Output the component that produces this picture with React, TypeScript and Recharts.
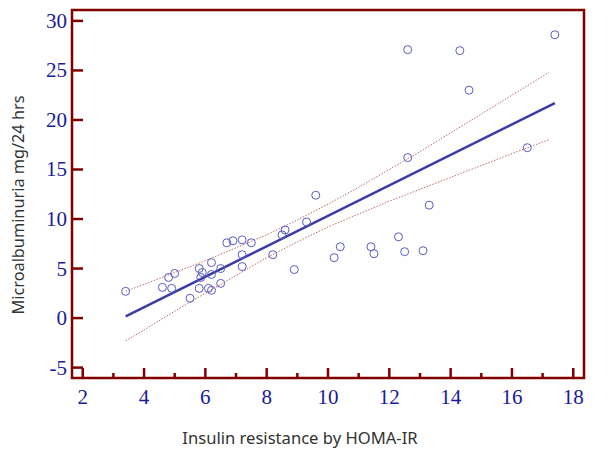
import React from "react";
import {
  ComposedChart, Scatter, Line, XAxis, YAxis, ReferenceArea,
} from "recharts";

// observed points: HOMA-IR vs microalbuminuria
const homaIR = [
  3.4, 4.6, 4.8, 5.0, 4.9, 5.5, 5.8, 5.9, 5.85, 5.8, 6.1, 6.2, 6.2, 6.2,
  6.5, 6.5, 6.7, 6.9, 7.2, 7.5, 7.2, 7.2, 8.2, 8.5, 8.6, 9.3, 9.6, 8.9,
  10.2, 10.4, 11.4, 11.5, 12.3, 12.5, 13.1, 13.3, 12.6, 12.6, 14.3, 14.6,
  16.5, 17.4,
];
const microalb = [
  2.7, 3.1, 4.1, 4.5, 3.0, 2.0, 5.0, 4.6, 4.1, 3.0, 3.0, 2.8, 5.6, 4.4,
  5.0, 3.5, 7.6, 7.8, 7.9, 7.6, 6.4, 5.2, 6.4, 8.4, 8.9, 9.7, 12.4, 4.9,
  6.1, 7.2, 7.2, 6.5, 8.2, 6.7, 6.8, 11.4, 16.2, 27.1, 27.0, 23.0,
  17.2, 28.6,
];

// regression line ends
const fitX = [3.4, 17.4];
const fitY = [0.17, 21.7];

// 95% confidence band
const ciX = [3.4, 4, 5, 6, 7, 8, 9, 10, 11, 12, 13, 14, 15, 16, 17.2];
const ciUpper = [2.7, 3.4, 4.6, 5.8, 7.1, 8.4, 9.9, 11.5, 13.2, 15.0, 16.8, 18.7, 20.6, 22.5, 24.8];
const ciLower = [-2.3, -1.2, 0.7, 2.5, 4.3, 6.1, 7.7, 9.2, 10.5, 11.8, 13.0, 14.2, 15.4, 16.6, 18.0];

const xTicks = [2, 3, 4, 5, 6, 7, 8, 9, 10, 11, 12, 13, 14, 15, 16, 17, 18];
const yTicks = [-5, 0, 5, 10, 15, 20, 25, 30];

const X_DOMAIN: [number, number] = [1.65, 18.35];
const Y_DOMAIN: [number, number] = [-6.05, 31.1];

const FRAME = "#800000";
const LABEL = "#1a1a9c";

const points = homaIR.map((x, i) => ({ x, y: microalb[i] }));
const fit = fitX.map((x, i) => ({ x, y: fitY[i] }));
const upper = ciX.map((x, i) => ({ x, y: ciUpper[i] }));
const lower = ciX.map((x, i) => ({ x, y: ciLower[i] }));

const XTick = (props: any) => {
  const { x, y, payload } = props;
  const major = payload.value % 2 === 0;
  return (
    <g>
      <line x1={x} x2={x} y1={y} y2={y - (major ? 10 : 5)} stroke={FRAME} strokeWidth={2.5} />
      {major && (
        <text x={x} y={y + 26} textAnchor="middle" fill={LABEL}
          fontFamily="Liberation Serif" fontSize={21}>
          {payload.value}
        </text>
      )}
    </g>
  );
};

const YTick = (props: any) => {
  const { x, y, payload } = props;
  return (
    <g>
      <line x1={x} x2={x + 11} y1={y} y2={y} stroke={FRAME} strokeWidth={2.5} />
      <text x={x - 5} y={y + 7} textAnchor="end" fill={LABEL}
        fontFamily="Liberation Serif" fontSize={21}>
        {payload.value}
      </text>
    </g>
  );
};

const OpenCircle = (props: any) => (
  <circle cx={props.cx} cy={props.cy} r={4} fill="none" stroke="#5a5ac4" strokeWidth={1} />
);

export default function App() {
  return (
    <div style={{ position: "absolute", left: 0, top: 0, background: "#fff" }}>
      <ComposedChart width={609} height={457}
        margin={{ top: 10, right: 25, bottom: 0, left: 0 }}>
        <XAxis type="number" dataKey="x" domain={X_DOMAIN} ticks={xTicks}
          allowDataOverflow interval={0} axisLine={false} tickLine={false}
          tickSize={0} tickMargin={0} height={79} tick={<XTick />} />
        <YAxis type="number" dataKey="y" domain={Y_DOMAIN} ticks={yTicks}
          allowDataOverflow interval={0} axisLine={false} tickLine={false}
          tickSize={0} tickMargin={0} width={72} tick={<YTick />} />
        <ReferenceArea x1={X_DOMAIN[0]} x2={X_DOMAIN[1]} y1={Y_DOMAIN[0]} y2={Y_DOMAIN[1]}
          fill="none" stroke={FRAME} strokeWidth={2.5} ifOverflow="visible" />
        <Line data={upper} dataKey="y" type="linear" stroke="#c26a6a" strokeWidth={1}
          strokeDasharray="1.5 1.5" dot={false} isAnimationActive={false} />
        <Line data={lower} dataKey="y" type="linear" stroke="#c26a6a" strokeWidth={1}
          strokeDasharray="1.5 1.5" dot={false} isAnimationActive={false} />
        <Line data={fit} dataKey="y" type="linear" stroke="#3a3aa8" strokeWidth={2.5}
          dot={false} isAnimationActive={false} />
        <Scatter data={points} shape={<OpenCircle />} isAnimationActive={false} />
        <text x={300} y={444} textAnchor="middle" fill="#333" fontFamily="Noto Sans" fontSize={16.6}>
          Insulin resistance by HOMA-IR
        </text>
        <text x={24} y={205} textAnchor="middle" fill="#333" fontFamily="Noto Sans" fontSize={16.3}
          transform="rotate(-90 24 205)">
          Microalbuminuria mg/24 hrs
        </text>
      </ComposedChart>
    </div>
  );
}
